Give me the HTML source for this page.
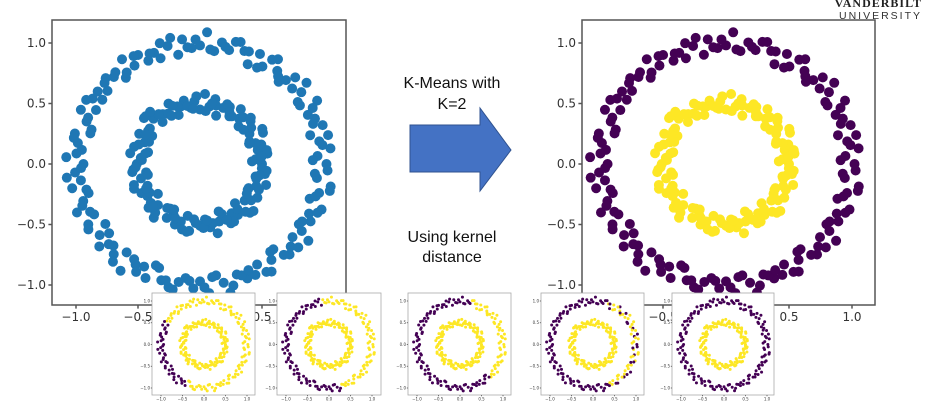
<!DOCTYPE html>
<html><head><meta charset="utf-8">
<style>
body{margin:0;background:#fff;width:930px;height:418px;overflow:hidden;font-family:"Liberation Sans",sans-serif}
svg{position:absolute;left:0;top:0}
.t{font-family:"DejaVu Sans","Liberation Sans",sans-serif;fill:#333}
.cap{font-family:"Liberation Sans",sans-serif;font-size:16px;fill:#111;text-anchor:middle}
</style></head>
<body>
<svg id="s" width="930" height="418">
  <g>
    <text x="922" y="7" text-anchor="end" font-family="Liberation Serif,serif" font-weight="bold" font-size="12" fill="#222" letter-spacing="1">VANDERBILT</text>
    <text x="922" y="19" text-anchor="end" font-family="Liberation Sans,sans-serif" font-size="10.5" fill="#333" letter-spacing="2">UNIVERSITY</text>
  </g>
  <g>
    <text class="cap" x="452" y="88">K-Means with</text>
    <text class="cap" x="452" y="109">K=2</text>
  </g>
  <polygon points="410,125 480,125 480,108 511,150 480,191 480,172 410,172" fill="#4472c4" stroke="#2f528f" stroke-width="1"/>
  <g>
    <text class="cap" x="452" y="242">Using kernel</text>
    <text class="cap" x="452" y="262">distance</text>
  </g>
</svg>
<script>
const outerAngles=[0,4,7,11,15,18,22,25,29,33,36,40,43,47,51,54,58,62,65,69,72,76,80,83,87,90,94,98,101,105,108,112,116,119,123,126,130,134,137,141,144,148,152,155,159,162,166,170,173,177,180,184,188,191,195,198,202,206,209,213,216,220,224,227,231,234,238,242,245,249,252,256,260,263,267,270,274,278,281,285,288,292,296,299,303,306,310,314,317,321,324,328,332,335,339,342,346,350,353,357,2,9,13,20,27,31,38,45,49,56,60,67,74,78,85,92,96,103,110,114,121,128,132,139,146,150,157,164,168,175,182,186,193,200,204,211,218,222,229,236,240,247,254,258,265,272,276,283,290,294,301,308,312,319,326,330,337,344,348,355];
const outerRadii=[1.02,0.95,1.06,0.98,0.92,1.04,1.0,0.96,1.08,0.94,1.01,0.97,1.05,0.93,0.99,1.07,0.95,1.03,0.91,1.0,1.06,0.97,1.02,0.94,1.09,0.98,0.96,1.04,0.92,1.01,1.05,0.99,0.95,1.03,0.97,1.07,0.93,1.0,1.04,0.96,1.02];
const innerAngles=[0,5,9,14,18,23,27,32,36,41,45,50,54,59,63,68,72,77,81,86,90,95,99,104,108,113,117,122,126,131,135,140,144,149,153,158,162,167,171,176,180,185,189,194,198,203,207,212,216,221,225,230,234,239,243,248,252,257,261,266,270,275,279,284,288,293,297,302,306,311,315,320,324,329,333,338,342,347,351,356,3,12,21,30,39,48,57,66,75,84,93,102,111,120,129,138,147,156,165,174,183,192,201,210,219,228,237,246,255,264,273,282,291,300,309,318,327,336,345,354,7,25,43,61,79,97,115,133,151,169,187,205,223,241,259,277,295,313,331,349];
const innerRadii=[0.5,0.45,0.55,0.48,0.52,0.43,0.57,0.47,0.51,0.54,0.44,0.49,0.56,0.46,0.53,0.5,0.42,0.55,0.48,0.58,0.45,0.52,0.47,0.54,0.5,0.44,0.56,0.49,0.51,0.46,0.53,0.59];
const thumbPurpleRanges=[[[150,245]],[[100,285]],[[75,312]],[[70,290]],[[0,360]]];
const C={blue:'#1f77b4',purple:'#440154',yellow:'#fde725'};
const S=document.getElementById('s');
const NS='http://www.w3.org/2000/svg';
function mk(t,a,p){const e=document.createElementNS(NS,t);for(const k in a)e.setAttribute(k,a[k]);(p||S).appendChild(e);return e;}
function pts(){const o=[];outerAngles.forEach((a,i)=>o.push({a:a,r:outerRadii[i%outerRadii.length],ring:0}));innerAngles.forEach((a,i)=>o.push({a:a,r:innerRadii[i%innerRadii.length],ring:1}));return o;}
const P=pts();
function inRanges(a,rs){return rs.some(r=>a>=r[0]&&a<=r[1]);}
function chart(name,box,cx,cy,ux,uy,mr,colorFn,fs,sw,ticks){
  const g=mk('g',{});
  
  
  const X=v=>cx+v*ux, Y=v=>cy-v*uy;
  mk('rect',{x:box[0],y:box[1],width:box[2]-box[0],height:box[3]-box[1],fill:'#fff',stroke:ticks?'#555':'#aaa','stroke-width':sw},g);
  P.forEach((p,i)=>{const rad=p.a*Math.PI/180;
    const c=mk('circle',{cx:X(p.r*Math.cos(rad)),cy:Y(p.r*Math.sin(rad)),r:mr,fill:colorFn(p,i)},g);
    
    });
  [-1,-0.5,0,0.5,1].forEach(v=>{
    const tl=mk('text',{x:X(v),y:box[3]+fs*1.35,'font-size':fs,'text-anchor':'middle',class:'t'},g);tl.textContent=(v<0?'\u2212':'')+Math.abs(v).toFixed(1);
    
    
    mk('line',{x1:X(v),x2:X(v),y1:box[3],y2:box[3]+fs*0.3,stroke:'#555','stroke-width':sw},g);
    const yl=mk('text',{x:box[0]-fs*0.5,y:Y(v)+fs*0.35,'font-size':fs,'text-anchor':'end',class:'t'},g);yl.textContent=(v<0?'\u2212':'')+Math.abs(v).toFixed(1);
    
    
    mk('line',{x1:box[0],x2:box[0]-fs*0.3,y1:Y(v),y2:Y(v),stroke:'#555','stroke-width':sw},g);
  });
}
chart('input-scatter',[52,20,346,305],200,164,124,121,5,()=>C.blue,12,1.5,true);
chart('kmeans-result-scatter',[582,20,875,305],726,164,126,121,5,p=>p.ring?C.yellow:C.purple,12,1.5,true);
const thumbs=[[152,255],[277,381],[408,511],[541,644],[672,774]];
thumbs.forEach((t,k)=>{
  chart('kernel-iteration-'+(k+1),[t[0],293,t[1],395],t[0]+52,344.5,43,43.5,1.5,(p,i)=>{
    if(p.ring)return C.yellow;
    if(k===3){const a=p.a;if((a<70||a>290)&&i%3!==0)return C.yellow;return C.purple;}
    return inRanges(p.a,thumbPurpleRanges[k])?C.purple:C.yellow;},4,0.8,false);
});
</script>
</body></html>
